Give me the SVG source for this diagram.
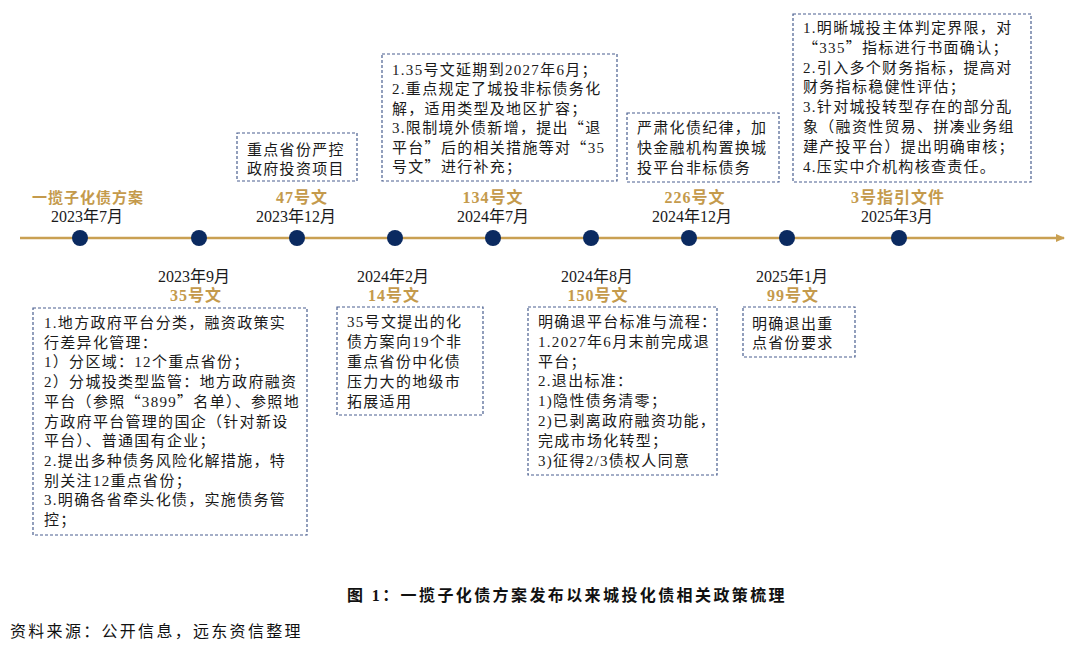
<svg xmlns="http://www.w3.org/2000/svg" width="1080" height="649" viewBox="0 0 1080 649">
<defs>
<style>
.box{fill:#fff;stroke:#4A5F8F;stroke-width:1.2;stroke-dasharray:3 2}
.t{font-family:"Liberation Serif","Noto Sans CJK SC",serif;font-size:15px;fill:#1a1a1a;letter-spacing:1.3px}
.q{font-family:"Noto Sans CJK SC",sans-serif}
.d{font-family:"Liberation Serif","Noto Sans CJK SC",serif;font-size:16px;fill:#1a1a1a;text-anchor:middle}
.g{font-family:"Liberation Serif","Noto Sans CJK SC",serif;font-size:16px;font-weight:bold;fill:#C49A4C;text-anchor:middle;letter-spacing:1px}
.dot{fill:#0B2A60}
.cap{font-family:"Liberation Serif","Noto Sans CJK SC",serif;font-size:16px;font-weight:bold;fill:#111;letter-spacing:2.4px}
.src{font-family:"Liberation Serif","Noto Sans CJK SC",serif;font-size:16px;fill:#111;letter-spacing:2.3px}
</style>
<marker id="arr" markerWidth="10" markerHeight="10" refX="8" refY="5" orient="auto" markerUnits="userSpaceOnUse">
<path d="M0,1 L9,5 L0,9 Z" fill="#C9A052"/>
</marker>
</defs>
<rect width="1080" height="649" fill="#fff"/>

<g id="connectors">
<line x1="20" y1="238" x2="1064" y2="238" stroke="#C9A052" stroke-width="2.5" marker-end="url(#arr)"/>
<circle class="dot" cx="80" cy="238" r="8"/>
<circle class="dot" cx="199" cy="238" r="8"/>
<circle class="dot" cx="297" cy="238" r="8"/>
<circle class="dot" cx="395" cy="238" r="8"/>
<circle class="dot" cx="493" cy="238" r="8"/>
<circle class="dot" cx="591" cy="238" r="8"/>
<circle class="dot" cx="689" cy="238" r="8"/>
<circle class="dot" cx="787" cy="238" r="8"/>
<circle class="dot" cx="899" cy="238" r="8"/>
</g>

<g id="n2023-07">
<text class="g" x="88" y="203" style="font-size:15px">一揽子化债方案</text>
<text class="d" x="87" y="222">2023年7月</text>
</g>

<g id="n2023-09">
<text class="d" x="194" y="282">2023年9月</text>
<text class="g" x="196" y="301">35号文</text>
<rect class="box" x="33" y="308" width="274" height="227"/>
<text class="t">
<tspan x="44" y="328">1.地方政府平台分类，融资政策实</tspan>
<tspan x="44" y="347.7">行差异化管理：</tspan>
<tspan x="44" y="367.4">1）分区域：12个重点省份；</tspan>
<tspan x="44" y="387.1">2）分城投类型监管：地方政府融资</tspan>
<tspan x="44" y="406.8">平台（参照<tspan class="q">“</tspan>3899<tspan class="q">”</tspan>名单）、参照地</tspan>
<tspan x="44" y="426.5">方政府平台管理的国企（针对新设</tspan>
<tspan x="44" y="446.2">平台）、普通国有企业；</tspan>
<tspan x="44" y="465.9">2.提出多种债务风险化解措施，特</tspan>
<tspan x="44" y="485.6">别关注12重点省份；</tspan>
<tspan x="44" y="505.3">3.明确各省牵头化债，实施债务管</tspan>
<tspan x="44" y="525">控；</tspan>
</text>
</g>

<g id="n2023-12">
<rect class="box" x="237" y="133" width="120" height="48"/>
<text class="t">
<tspan x="247" y="155">重点省份严控</tspan>
<tspan x="247" y="174">政府投资项目</tspan>
</text>
<text class="g" x="302" y="203">47号文</text>
<text class="d" x="296" y="222">2023年12月</text>
</g>

<g id="n2024-02">
<text class="d" x="393" y="282">2024年2月</text>
<text class="g" x="394" y="301">14号文</text>
<rect class="box" x="337" y="307" width="146" height="108"/>
<text class="t">
<tspan x="347" y="327">35号文提出的化</tspan>
<tspan x="347" y="347">债方案向19个非</tspan>
<tspan x="347" y="367">重点省份中化债</tspan>
<tspan x="347" y="387">压力大的地级市</tspan>
<tspan x="347" y="407">拓展适用</tspan>
</text>
</g>

<g id="n2024-07">
<rect class="box" x="382" y="54" width="235" height="127"/>
<text class="t">
<tspan x="392" y="75">1.35号文延期到2027年6月；</tspan>
<tspan x="392" y="94.4">2.重点规定了城投非标债务化</tspan>
<tspan x="392" y="113.8">解，适用类型及地区扩容；</tspan>
<tspan x="392" y="133.2">3.限制境外债新增，提出<tspan class="q">“</tspan>退</tspan>
<tspan x="392" y="152.6">平台<tspan class="q">”</tspan>后的相关措施等对<tspan class="q">“</tspan>35</tspan>
<tspan x="392" y="172">号文<tspan class="q">”</tspan>进行补充；</tspan>
</text>
<text class="g" x="493" y="203">134号文</text>
<text class="d" x="493" y="222">2024年7月</text>
</g>

<g id="n2024-08">
<text class="d" x="597" y="282">2024年8月</text>
<text class="g" x="598" y="301">150号文</text>
<rect class="box" x="528" y="307" width="189" height="168"/>
<text class="t">
<tspan x="538" y="327">明确退平台标准与流程：</tspan>
<tspan x="538" y="346.8">1.2027年6月末前完成退</tspan>
<tspan x="538" y="366.6">平台；</tspan>
<tspan x="538" y="386.4">2.退出标准：</tspan>
<tspan x="538" y="406.2">1)隐性债务清零；</tspan>
<tspan x="538" y="426">2)已剥离政府融资功能，</tspan>
<tspan x="538" y="445.8">完成市场化转型；</tspan>
<tspan x="538" y="465.6">3)征得2/3债权人同意</tspan>
</text>
</g>

<g id="n2024-12">
<rect class="box" x="627" y="113" width="152" height="69"/>
<text class="t">
<tspan x="637" y="133">严肃化债纪律，加</tspan>
<tspan x="637" y="153">快金融机构置换城</tspan>
<tspan x="637" y="173">投平台非标债务</tspan>
</text>
<text class="g" x="695" y="203">226号文</text>
<text class="d" x="692" y="222">2024年12月</text>
</g>

<g id="n2025-01">
<text class="d" x="792" y="282">2025年1月</text>
<text class="g" x="793" y="301">99号文</text>
<rect class="box" x="743" y="307" width="112" height="50"/>
<text class="t">
<tspan x="752" y="329">明确退出重</tspan>
<tspan x="752" y="348">点省份要求</tspan>
</text>
</g>

<g id="n2025-03">
<rect class="box" x="793" y="14" width="238" height="168"/>
<text class="t">
<tspan x="803" y="33">1.明晰城投主体判定界限，对</tspan>
<tspan x="803" y="52.8"><tspan class="q">“</tspan>335<tspan class="q">”</tspan>指标进行书面确认；</tspan>
<tspan x="803" y="72.6">2.引入多个财务指标，提高对</tspan>
<tspan x="803" y="92.4">财务指标稳健性评估；</tspan>
<tspan x="803" y="112.2">3.针对城投转型存在的部分乱</tspan>
<tspan x="803" y="132">象（融资性贸易、拼凑业务组</tspan>
<tspan x="803" y="151.8">建产投平台）提出明确审核；</tspan>
<tspan x="803" y="171.6">4.压实中介机构核查责任。</tspan>
</text>
<text class="g" x="898" y="203">3号指引文件</text>
<text class="d" x="897" y="222">2025年3月</text>
</g>

<g id="caption">
<text class="cap" x="347" y="601">图 1：一揽子化债方案发布以来城投化债相关政策梳理</text>
<text class="src" x="10" y="637">资料来源：公开信息，远东资信整理</text>
</g>
</svg>
